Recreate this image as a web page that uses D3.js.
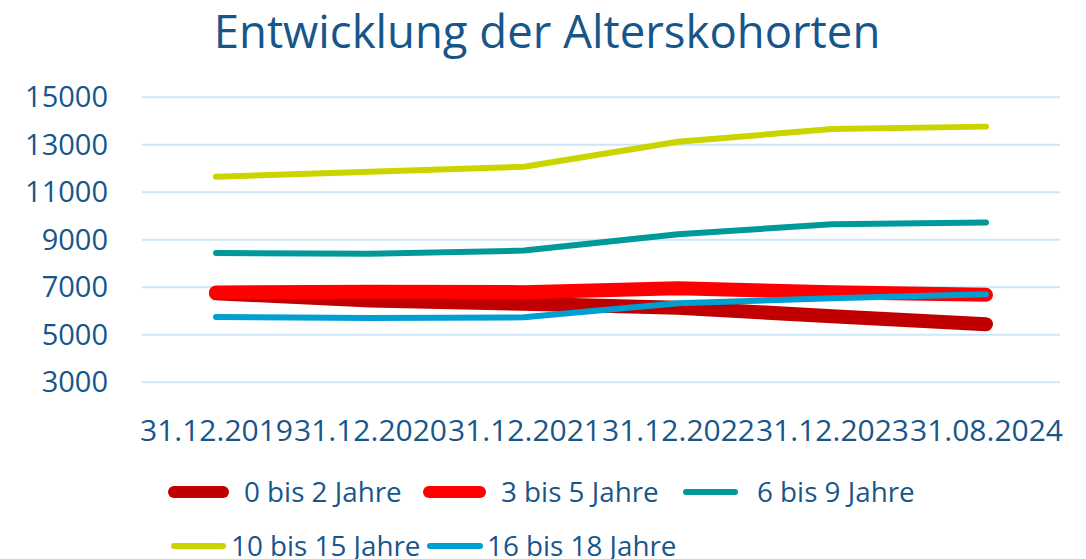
<!DOCTYPE html>
<html>
<head>
<meta charset="utf-8">
<script src="https://cdn.jsdelivr.net/npm/d3@7"></script>
<style>
  body { margin: 0; background: #fff; }
  svg, svg text { font-family: 'Open Sans', sans-serif; }
</style>
</head>
<body>
<svg></svg>
<script>
const width = 1086;
const height = 559;
const textColor = '#17568a';

// data
const dates = ['31.12.2019', '31.12.2020', '31.12.2021', '31.12.2022', '31.12.2023', '31.08.2024'];
const age0to2 = [6720, 6420, 6280, 6110, 5760, 5420];
const age3to5 = [6760, 6790, 6770, 6930, 6770, 6660];
const age6to9 = [8420, 8390, 8520, 9210, 9630, 9700];
const age10to15 = [11630, 11840, 12050, 13100, 13640, 13740];
const age16to18 = [5720, 5680, 5710, 6300, 6510, 6680];
const yTicks = [3000, 5000, 7000, 9000, 11000, 13000, 15000];

const series = [
    {name: '0 bis 2 Jahre', values: age0to2, color: '#c00000', w: 14, lw: 12},
    {name: '3 bis 5 Jahre', values: age3to5, color: '#ff0000', w: 14, lw: 12},
    {name: '6 bis 9 Jahre', values: age6to9, color: '#009999', w: 6, lw: 6},
    {name: '10 bis 15 Jahre', values: age10to15, color: '#ccd400', w: 6, lw: 6},
    {name: '16 bis 18 Jahre', values: age16to18, color: '#009fd1', w: 6, lw: 6}
];

const svg = d3.select('svg').attr('width', width).attr('height', height);

//Scales
var xScale = d3.scalePoint()
               .domain(dates)
               .range([139, 1063])
               .padding(0.5);

var yScale = d3.scaleLinear()
               .domain([3000, 15000])
               .range([381.7, 96.7]);

//Gridlines and axes
var yAxis = d3.axisLeft(yScale).tickValues(yTicks)
                               .tickSize(-(1060 - 142))
                               .tickPadding(34)
                               .tickFormat(d3.format('d'));

var gy = svg.append('g').attr('transform', 'translate(142, 0)').call(yAxis);
gy.attr('font-family', null);
gy.select('.domain').remove();
gy.selectAll('line').attr('stroke', '#cde6f8').attr('stroke-width', 2);
gy.selectAll('text').attr('fill', textColor).style('font-size', '29px').attr('dy', '0.35em');

var xAxis = d3.axisBottom(xScale).tickSize(0).tickPadding(0);
var gx = svg.append('g').attr('transform', 'translate(0, 430)').call(xAxis);
gx.attr('font-family', null);
gx.select('.domain').remove();
gx.selectAll('text').attr('fill', textColor).style('font-size', '30px').attr('dy', '0.35em');

//Title
svg.append('text').attr('x', 547)
                  .attr('y', 48)
                  .style('text-anchor', 'middle')
                  .style('font-size', '45.5px')
                  .attr('fill', textColor)
                  .text('Entwicklung der Alterskohorten');

//Lines
var line = d3.line()
             .x((d, i) => xScale(dates[i]))
             .y(d => yScale(d));

svg.selectAll('path.series')
   .data(series)
   .enter()
   .append('path')
       .attr('class', 'series')
       .attr('d', s => line(s.values))
       .attr('fill', 'none')
       .attr('stroke', s => s.color)
       .attr('stroke-width', s => s.w)
       .attr('stroke-linecap', 'round')
       .attr('stroke-linejoin', 'round');

//Legend
const legendPos = [
    {x1: 174, x2: 223, tx: 244, y: 492},
    {x1: 429, x2: 480, tx: 501, y: 492},
    {x1: 686, x2: 735, tx: 757, y: 492},
    {x1: 174, x2: 223, tx: 231, y: 546},
    {x1: 430, x2: 480, tx: 487, y: 546}
];

var legend = svg.selectAll('g.legend')
                .data(series)
                .enter()
                .append('g')
                .attr('class', 'legend');

legend.append('line')
      .attr('x1', (s, i) => legendPos[i].x1)
      .attr('x2', (s, i) => legendPos[i].x2)
      .attr('y1', (s, i) => legendPos[i].y)
      .attr('y2', (s, i) => legendPos[i].y)
      .attr('stroke', s => s.color)
      .attr('stroke-width', s => s.lw)
      .attr('stroke-linecap', 'round');

legend.append('text')
      .attr('x', (s, i) => legendPos[i].tx)
      .attr('y', (s, i) => legendPos[i].y)
      .attr('dy', '0.35em')
      .style('font-size', '27.8px')
      .attr('fill', textColor)
      .text(s => s.name);
</script>
</body>
</html>
